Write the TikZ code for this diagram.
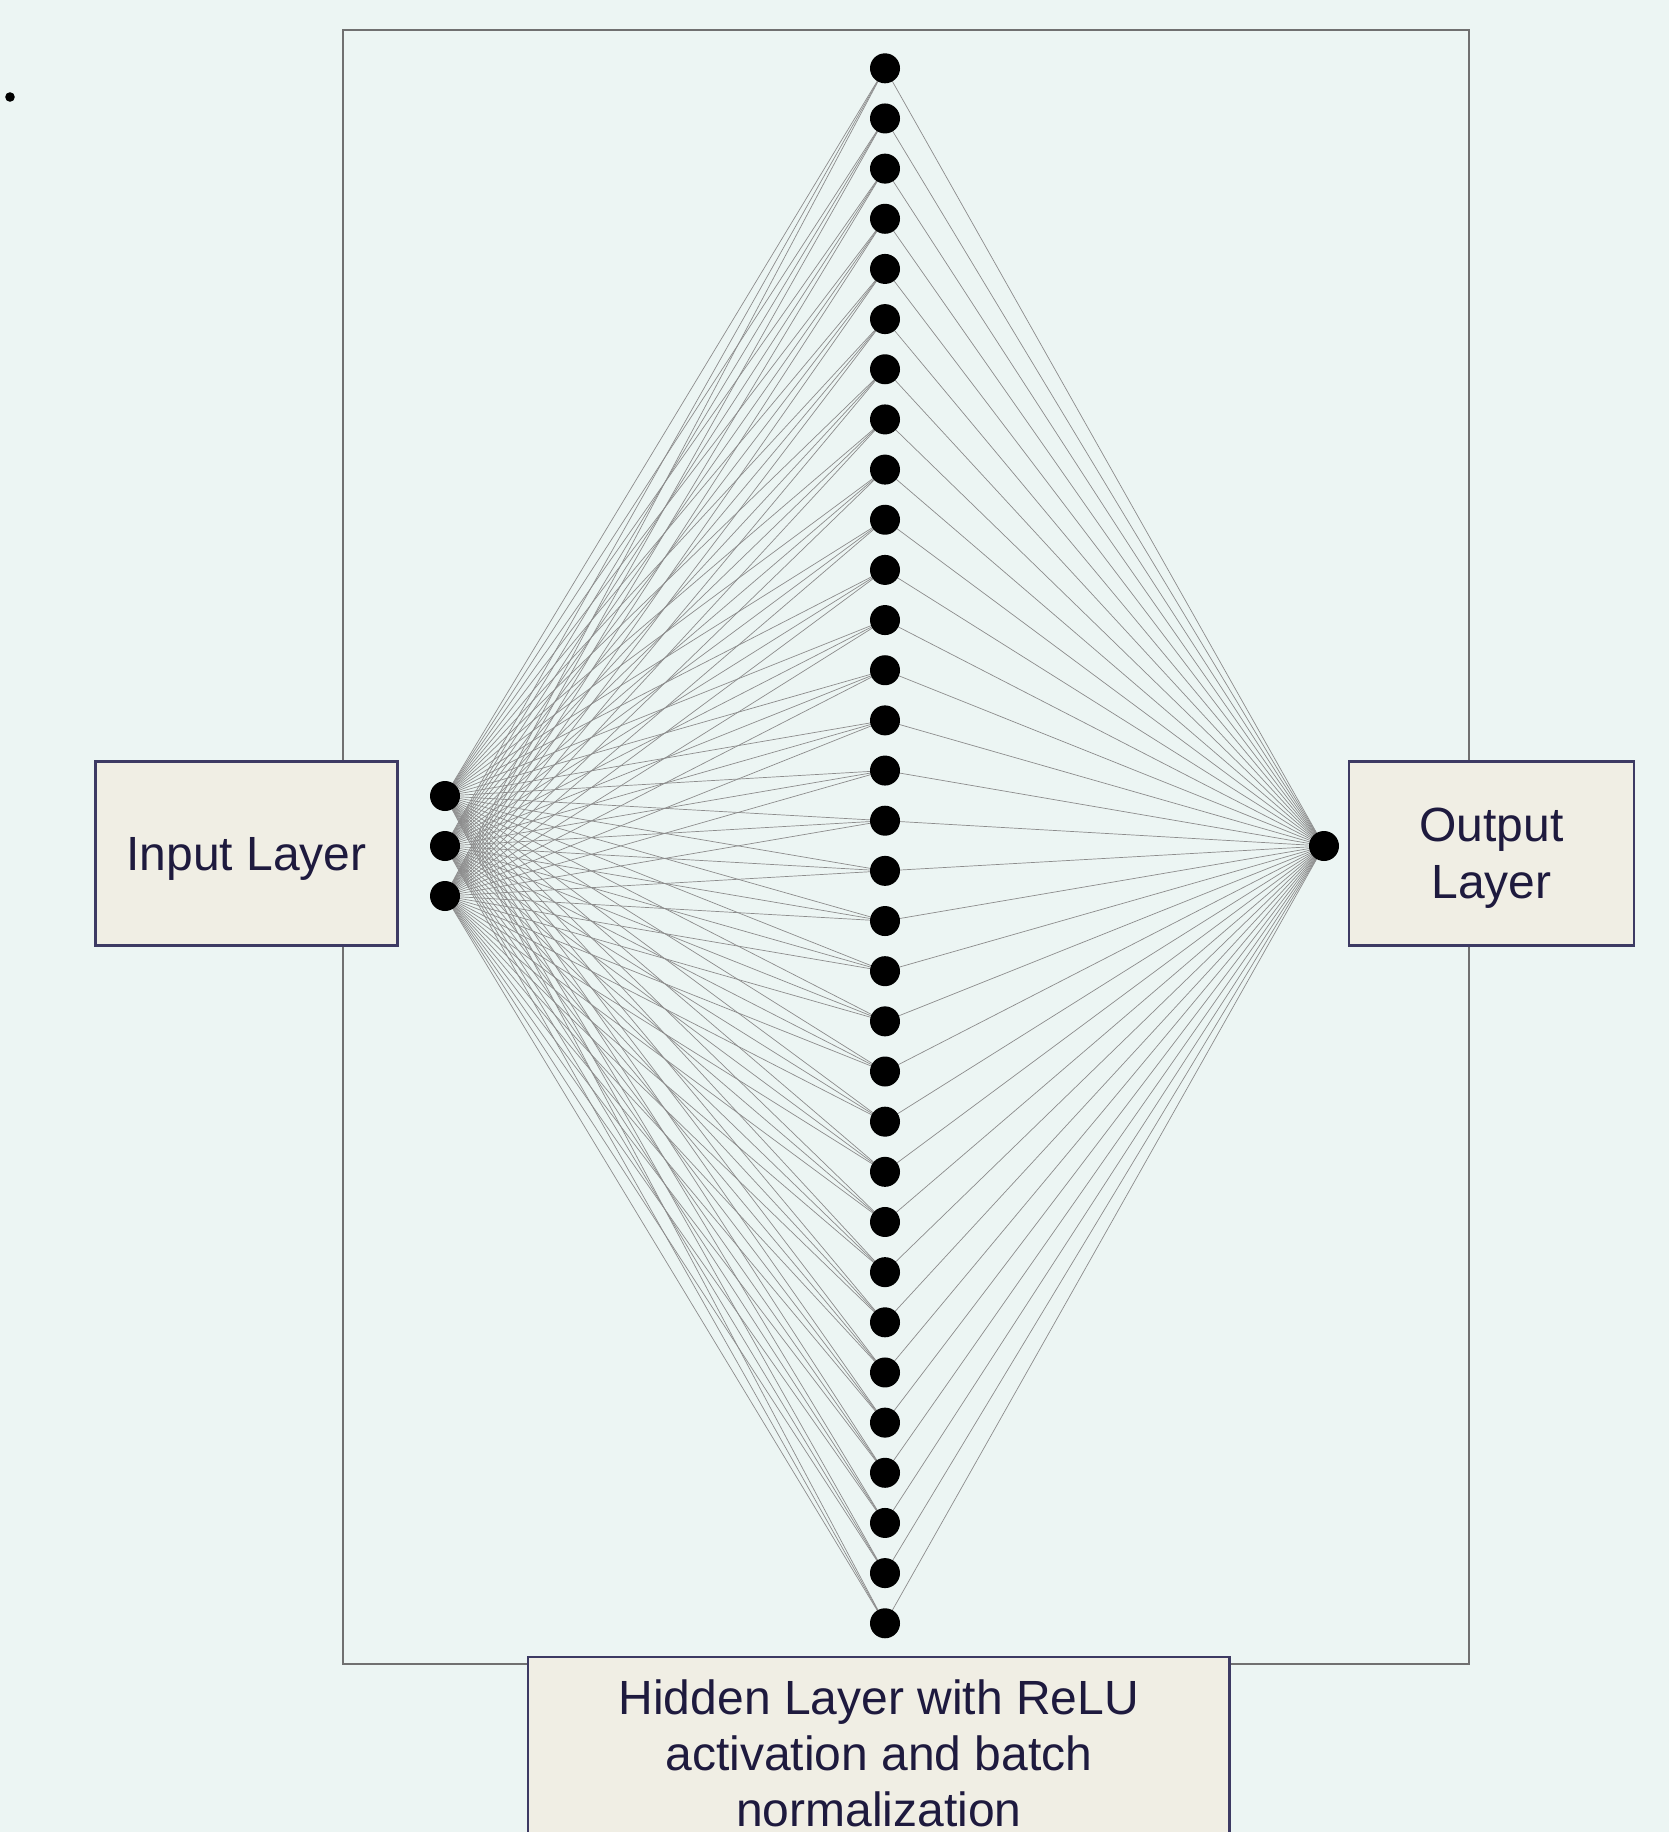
\documentclass[tikz,border=0pt]{standalone}
\usepackage{fontspec}
\setmainfont{Liberation Sans}
\definecolor{bg}{HTML}{ECF5F3}
\definecolor{boxfill}{HTML}{F0EEE4}
\definecolor{boxdraw}{HTML}{3D3A63}
\definecolor{txt}{HTML}{1E1A3E}
\definecolor{edge}{HTML}{8C8C8C}
\definecolor{framecol}{HTML}{707070}
\pgfdeclarelayer{back}
\pgfdeclarelayer{edges}
\pgfsetlayers{back,edges,main}
\begin{document}
\begin{tikzpicture}[x=0.5pt,y=-0.5pt,
  neuron/.style={circle,fill=black,minimum size=15pt,inner sep=0pt},
  layerbox/.style={draw=boxdraw,line width=1.4pt,fill=boxfill,inner sep=0pt},
  boxtext/.style={text=txt,font=\fontsize{24}{28.5}\selectfont,align=center,inner sep=0pt},
  conn/.style={draw=edge,line width=0.35pt},
  framebox/.style={draw=framecol,line width=0.8pt}]
\begin{pgfonlayer}{back}
\fill[bg] (0,0) rectangle (1669,1832);
\draw[framebox] (343,30) rectangle (1469,1664);
\end{pgfonlayer}
\useasboundingbox (0,0) rectangle (1669,1832);
\clip (0,0) rectangle (1669,1832);
% stray dot
\node[circle,fill=black,minimum size=4.8pt,inner sep=0pt] (dot) at (10,97) {};
% input neurons
\node[neuron] (i1) at (445,796) {};
\node[neuron] (i2) at (445,846) {};
\node[neuron] (i3) at (445,896) {};
% hidden neurons
\foreach \k in {1,...,32} {
  \node[neuron] (h\k) at (885,{68.3+(\k-1)*50.16}) {};
}
% output neuron
\node[neuron] (o) at (1324,846) {};
% connections
\begin{pgfonlayer}{edges}
\foreach \k in {1,...,32} {
  \foreach \a in {1,2,3} {
    \draw[conn] (i\a.center) -- (h\k.center);
  }
  \draw[conn] (h\k.center) -- (o.center);
}
\end{pgfonlayer}
% layer boxes
\node[layerbox,minimum width=151pt,minimum height=92pt] (inbox) at (246.6,853.8) {};
\node[boxtext] (intext) at (246.6,858.5) {Input Layer};
\node[layerbox,minimum width=142.5pt,minimum height=92pt] (outbox) at (1491.5,853.8) {};
\node[boxtext] (outtext) at (1491.5,858.5) {Output\\Layer};
\node[layerbox,minimum width=350.8pt,minimum height=96pt] (hidbox) at (878.8,1753) {};
\node[boxtext,font=\fontsize{24}{28}\selectfont] (hidtext) at (878.8,1753) {Hidden Layer with ReLU\\activation and batch\\normalization};
\end{tikzpicture}
\end{document}
